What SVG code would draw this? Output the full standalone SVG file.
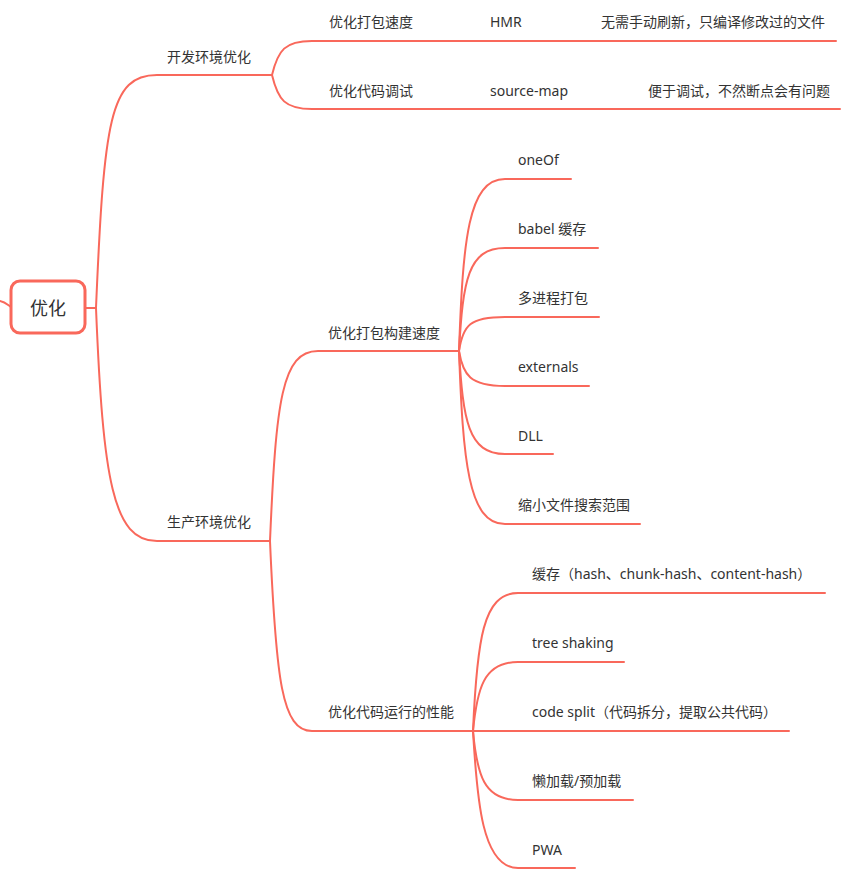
<svg xmlns="http://www.w3.org/2000/svg" width="853" height="884" viewBox="0 0 853 884">
  <style>
    .edge { fill: none; stroke: #f9685b; stroke-width: 2; stroke-linecap: round; }
    .lbl { font-family: "Noto Sans", "Noto Sans CJK SC", sans-serif; font-size: 14px; fill: #333333; }
    .root-box { fill: #ffffff; stroke: #f9685b; stroke-width: 3; }
    .root-lbl { font-family: "Noto Sans", "Noto Sans CJK SC", sans-serif; font-size: 18px; fill: #333333; text-anchor: middle; }
  </style>
  <rect width="853" height="884" fill="#ffffff"/>

  <!-- connectors -->
  <g id="connectors">
    <!-- root stubs -->
    <path class="edge" d="M0,301 C5,302 8,305 11,307"/>
    <path class="edge" d="M85,308 H96"/>
    <!-- level 1 -->
    <path class="edge" d="M96,308 C104,120 110,75 157,75 H272"/>
    <path class="edge" d="M96,308 C103,480 113,541 157,541 H270"/>
    <!-- dev branch -->
    <path class="edge" d="M272,75 C278,50 285,41 312,41 H836"/>
    <path class="edge" d="M272,75 C278,100 285,109 312,109 H840"/>
    <!-- prod branch -->
    <path class="edge" d="M270,541 C276,400 282,351 318,351 H459"/>
    <path class="edge" d="M270,541 C276,680 282,731 312,731 H789"/>
    <!-- build speed children -->
    <path class="edge" d="M459,351 C463,240 468,179 505,179 H571"/>
    <path class="edge" d="M459,351 C463,280 468,248 505,248 H598"/>
    <path class="edge" d="M459,351 C463,325 470,317 505,317 H599"/>
    <path class="edge" d="M459,351 C463,375 470,386 505,386 H589"/>
    <path class="edge" d="M459,351 C463,420 468,454 505,454 H553"/>
    <path class="edge" d="M459,351 C463,460 468,524 505,524 H640"/>
    <!-- runtime performance children -->
    <path class="edge" d="M473,731 C477,640 483,593 518,593 H825"/>
    <path class="edge" d="M473,731 C477,690 483,662 518,662 H624"/>
    <path class="edge" d="M473,731 C477,775 484,800 518,800 H633"/>
    <path class="edge" d="M473,731 C477,800 482,868 518,868 H575"/>
  </g>

  <!-- root -->
  <g id="root">
    <rect class="root-box" x="11" y="281" width="74" height="52" rx="9"/>
    <text class="root-lbl" x="48" y="315">优化</text>
  </g>

  <!-- level 1 -->
  <g id="dev"><text class="lbl" x="167" y="62">开发环境优化</text></g>
  <g id="prod"><text class="lbl" x="167" y="527">生产环境优化</text></g>

  <!-- dev children -->
  <g id="dev-speed"><text class="lbl" x="329" y="27">优化打包速度</text></g>
  <g id="hmr"><text class="lbl" x="490" y="27">HMR</text></g>
  <g id="hmr-note"><text class="lbl" x="601" y="27">无需手动刷新，只编译修改过的文件</text></g>
  <g id="dev-debug"><text class="lbl" x="329" y="96">优化代码调试</text></g>
  <g id="source-map"><text class="lbl" x="490" y="96">source-map</text></g>
  <g id="source-map-note"><text class="lbl" x="648" y="96">便于调试，不然断点会有问题</text></g>

  <!-- prod children -->
  <g id="build-speed"><text class="lbl" x="328" y="338">优化打包构建速度</text></g>
  <g id="oneof"><text class="lbl" x="518" y="165">oneOf</text></g>
  <g id="babel-cache"><text class="lbl" x="518" y="234">babel 缓存</text></g>
  <g id="multi-process"><text class="lbl" x="518" y="303">多进程打包</text></g>
  <g id="externals"><text class="lbl" x="518" y="372">externals</text></g>
  <g id="dll"><text class="lbl" x="518" y="441">DLL</text></g>
  <g id="narrow-search"><text class="lbl" x="518" y="510">缩小文件搜索范围</text></g>

  <g id="runtime-perf"><text class="lbl" x="328" y="717">优化代码运行的性能</text></g>
  <g id="hash-cache"><text class="lbl" x="532" y="579">缓存（hash、chunk-hash、content-hash）</text></g>
  <g id="tree-shaking"><text class="lbl" x="532" y="648">tree shaking</text></g>
  <g id="code-split"><text class="lbl" x="532" y="717">code split（代码拆分，提取公共代码）</text></g>
  <g id="lazy-load"><text class="lbl" x="532" y="786">懒加载/预加载</text></g>
  <g id="pwa"><text class="lbl" x="532" y="855">PWA</text></g>
</svg>
